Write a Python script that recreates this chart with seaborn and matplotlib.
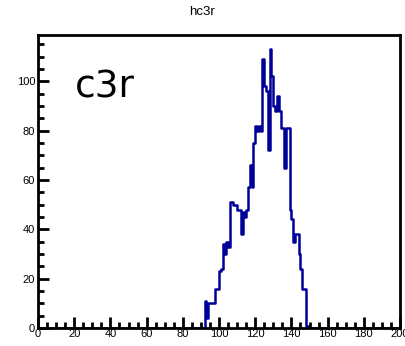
import numpy as np
import pandas as pd
import matplotlib
matplotlib.use("Agg")
import matplotlib.pyplot as plt
import seaborn as sns
from matplotlib.ticker import MultipleLocator

# bin left edges (width 1) and counts
bin_lo = list(range(92, 149))
counts = [11, 4, 10, 10, 10, 10, 16, 16, 23, 24,      # 92-101
          34, 30, 35, 33, 51, 51, 50, 50, 48, 48,     # 102-111
          38, 47, 45, 48, 57, 66, 57, 75, 82, 80,     # 112-121
          82, 80, 109, 98, 96, 72, 113, 102, 90, 88,  # 122-131
          94, 88, 81, 81, 65, 81, 81, 48, 44, 35,     # 132-141
          38, 38, 30, 24, 16, 16, 1]                  # 142-148
hist_title = "hc3r"
label = "c3r"

sns.set_theme(style="white")
plt.rcParams['font.family'] = ['Liberation Sans', 'DejaVu Sans']
plt.rcParams['text.color'] = 'black'
plt.rcParams['xtick.color'] = 'black'
plt.rcParams['ytick.color'] = 'black'

fig = plt.figure(figsize=(4.05, 3.46), dpi=100)
ax = fig.add_axes([38 / 405, 1 - 328 / 346, (400 - 38) / 405, (328 - 35) / 346])

df = pd.DataFrame({"x": np.array(bin_lo) + 0.5, "w": counts})
sns.histplot(data=df, x="x", weights="w", binwidth=1, binrange=(0, 200), element="step",
             fill=False, color="#000099", linewidth=1.8, ax=ax)

ax.set_xlim(0, 200)
ax.set_ylim(0, 118.8)
ax.set_xlabel("")
ax.set_ylabel("")

ax.xaxis.set_major_locator(MultipleLocator(20))
ax.xaxis.set_minor_locator(MultipleLocator(5))
ax.yaxis.set_major_locator(MultipleLocator(20))
ax.yaxis.set_minor_locator(MultipleLocator(5))
ax.tick_params(which="both", direction="in", top=False, right=False,
               bottom=True, left=True, color="black", width=2, labelsize=8, pad=2)
ax.tick_params(which="major", length=8)
ax.tick_params(which="minor", length=4)
ax.tick_params(axis="x", pad=1)
for s in ax.spines.values():
    s.set_color("black")
    s.set_linewidth(2)

fig.text(0.5, 1 - 12 / 346, hist_title, ha="center", va="center", fontsize=9.5, color="black")
ax.text(75 / 405, 1 - 97 / 346, label, transform=fig.transFigure, fontsize=27,
        family=["DejaVu Sans"], ha="left", va="baseline", color="black")

fig.savefig("out.png", dpi=100)
